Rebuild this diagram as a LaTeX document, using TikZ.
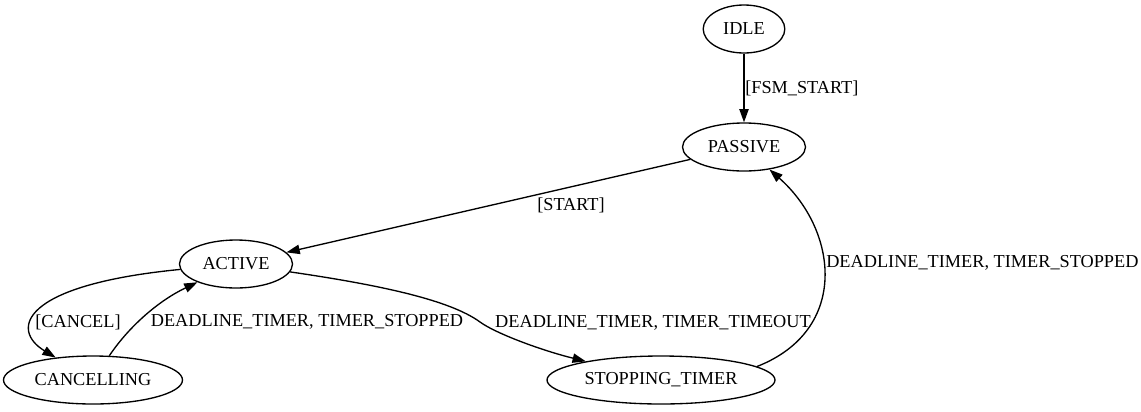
\documentclass[tikz,border=0pt]{standalone}
\usepackage{fontspec}
\setmainfont{Liberation Serif}
\usetikzlibrary{
    shapes.geometric,
    arrows.meta,
    positioning
}

\begin{document}
\begin{tikzpicture}[
        x=0.75pt, y=-0.75pt,
        state/.style={draw, ellipse, line width=1pt, minimum height=36pt, inner sep=0pt, font=\fontsize{13.7}{16}\selectfont},
        edge/.style={draw, line width=1pt, -{Triangle[length=10pt, width=7pt]}},
        lbl/.style={font=\fontsize{13.7}{16}\selectfont, inner sep=0pt}
    ]
        \useasboundingbox (0,0) rectangle (1141,411);

        % States
        \node[state, minimum width=61.2pt] (idle) at (744, 29) {IDLE};
        \node[state, minimum width=92.25pt] (passive) at (744, 147) {PASSIVE};
        \node[state, minimum width=84.75pt] (active) at (236, 264) {ACTIVE};
        \node[state, minimum width=134.25pt] (cancel) at (93, 380) {CANCELLING};
        \node[state, minimum width=171pt] (stop) at (661, 380) {STOPPING\_TIMER};

        % Bend point of the timeout edge
        \coordinate (bend) at (480, 322);

        % Transitions
        \draw[edge] (idle) -- (passive);
        \draw[edge] (passive) -- (active);
        \draw[edge] (active) .. controls (20, 285) and (10, 330) .. (cancel);
        \draw[edge] (cancel) .. controls (130, 325) and (160, 300) .. (active);
        \draw[edge] (active) .. controls (380, 285) and (450, 300) .. (bend)
            .. controls (495, 333) and (540, 350) .. (stop);
        \draw[edge] (stop.8) .. controls (850, 330) and (838, 230) .. (passive);

        % Transition labels
        \node[lbl, anchor=west] (lFsm) at (745, 88) {[FSM\_START]};
        \node[lbl] (lStart) at (571, 205) {[START]};
        \node[lbl] (lCancel) at (78, 322) {[CANCEL]};
        \node[lbl] (lBack) at (307, 322) {DEADLINE\_TIMER, TIMER\_STOPPED};
        \node[lbl] (lTimeout) at (653, 323) {DEADLINE\_TIMER, TIMER\_TIMEOUT};
        \node[lbl, anchor=west] (lStopped) at (826, 263) {DEADLINE\_TIMER, TIMER\_STOPPED};
    \end{tikzpicture}
\end{document}
